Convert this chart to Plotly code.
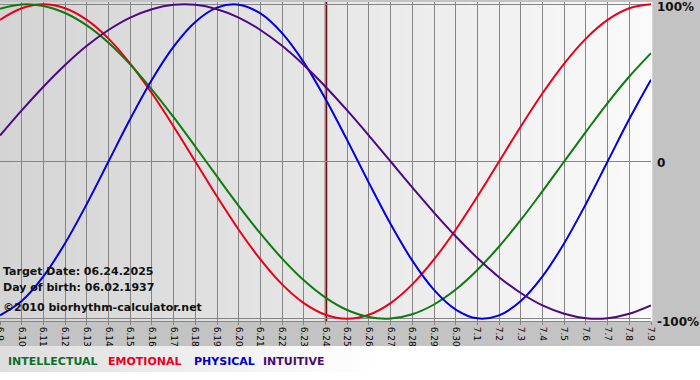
import plotly.graph_objects as go

# ---- data ----
dates = ["6.9", "6.10", "6.11", "6.12", "6.13", "6.14", "6.15", "6.16", "6.17", "6.18",
         "6.19", "6.20", "6.21", "6.22", "6.23", "6.24", "6.25", "6.26", "6.27", "6.28",
         "6.29", "6.30", "7.1", "7.2", "7.3", "7.4", "7.5", "7.6", "7.7", "7.8", "7.9"]

intellectual = [97.2, 99.9, 99.0, 94.5, 86.6, 75.6, 61.8, 45.8, 28.2, 9.5, -9.5, -28.2,
                -45.8, -61.8, -75.6, -86.6, -94.5, -99.0, -99.9, -97.2, -91.0, -81.5,
                -69.0, -54.1, -37.2, -18.9, 0.0, 18.9, 37.2, 54.1, 69.0]
emotional = [90.1, 97.5, 100.0, 97.5, 90.1, 78.2, 62.3, 43.4, 22.3, 0.0, -22.3, -43.4,
             -62.3, -78.2, -90.1, -97.5, -100.0, -97.5, -90.1, -78.2, -62.3, -43.4,
             -22.3, 0.0, 22.3, 43.4, 62.3, 78.2, 90.1, 97.5, 100.0]
physical = [-97.9, -88.8, -73.1, -52.0, -27.0, 0.0, 27.0, 52.0, 73.1, 88.8, 97.9, 99.8,
            94.2, 81.7, 63.1, 39.8, 13.6, -13.6, -39.8, -63.1, -81.7, -94.2, -99.8,
            -97.9, -88.8, -73.1, -52.0, -27.0, 0.0, 27.0, 52.0]
intuitive = [16.5, 32.5, 47.6, 61.4, 73.6, 83.7, 91.6, 96.9, 99.7, 99.7, 96.9, 91.6,
             83.7, 73.6, 61.4, 47.6, 32.5, 16.5, 0.0, -16.5, -32.5, -47.6, -61.4,
             -73.6, -83.7, -91.6, -96.9, -99.7, -99.7, -96.9, -91.6]

target_date = "6.24"
y_ticks = [-100, 0, 100]
y_tick_labels = ["-100%", "0", "100%"]
info_lines = ["Target Date: 06.24.2025", "Day of birth: 06.02.1937",
              "\u00a92010 biorhythm-calculator.net"]
legend_names = ["INTELLECTUAL", "EMOTIONAL", "PHYSICAL", "INTUITIVE"]

# ---- styles ----
colors = {"INTELLECTUAL": "#0f7a0f", "EMOTIONAL": "#e8001a",
          "PHYSICAL": "#0000e0", "INTUITIVE": "#4b0a82"}
legend_colors = {"INTELLECTUAL": "#0f6e2a", "EMOTIONAL": "#e8001a",
                 "PHYSICAL": "#0000cc", "INTUITIVE": "#4b0a6e"}
W, H = 700, 380
T, B, L, R = 2, 59, 0, 49
plot_h = H - T - B
plot_w = W - L - R

def py(px):  # pixel row -> paper y
    return (H - B - px) / plot_h

def pxx(px):  # pixel column -> paper x
    return (px - L) / plot_w

fig = go.Figure()
series = [("EMOTIONAL", emotional), ("INTELLECTUAL", intellectual),
          ("PHYSICAL", physical), ("INTUITIVE", intuitive)]
for name, vals in series:
    fig.add_trace(go.Scatter(x=dates, y=vals, mode="lines", name=name,
                             line=dict(color=colors[name], width=2, shape="spline"),
                             showlegend=False, hoverinfo="skip"))

shapes = []
# plot background gradient (left gray -> right near-white)
n = 60
c0, c1 = (212, 212, 212), (250, 250, 250)
for i in range(n):
    t = i / (n - 1)
    c = tuple(round(c0[k] + (c1[k] - c0[k]) * t) for k in range(3))
    shapes.append(dict(type="rect", xref="paper", yref="paper",
                       x0=i / n, x1=(i + 1) / n + 0.002, y0=0, y1=1,
                       fillcolor="rgb(%d,%d,%d)" % c, line=dict(width=0), layer="below"))
# legend strip gradient
m = 40
s0, s1 = (222, 222, 222), (255, 255, 255)
for i in range(m):
    t = i / (m - 1)
    c = tuple(round(s0[k] + (s1[k] - s0[k]) * t) for k in range(3))
    shapes.append(dict(type="rect", xref="paper", yref="paper",
                       x0=pxx(i / m * 380), x1=pxx((i + 1) / m * 380 + 1),
                       y0=py(372), y1=py(346),
                       fillcolor="rgb(%d,%d,%d)" % c, line=dict(width=0), layer="below"))
shapes.append(dict(type="rect", xref="paper", yref="paper",
                   x0=pxx(380), x1=pxx(700), y0=py(372), y1=py(346),
                   fillcolor="#ffffff", line=dict(width=0), layer="below"))
shapes.append(dict(type="rect", xref="paper", yref="paper",
                   x0=0, x1=pxx(700), y0=py(381), y1=py(372),
                   fillcolor="#ffffff", line=dict(width=0), layer="below"))
# target date marker
ti = dates.index(target_date)
shapes.append(dict(type="line", xref="x", yref="paper", x0=ti, x1=ti,
                   x0shift=0.023, x1shift=0.023,
                   y0=0, y1=1, line=dict(color="#6a1010", width=2.5), layer="between"))

annotations = []
for i, txt in enumerate(info_lines):
    ypx = [271, 287, 307][i]
    annotations.append(dict(text="<b>%s</b>" % txt, xref="paper", yref="paper",
                            x=pxx(1), y=py(ypx), xanchor="left", yanchor="middle",
                            showarrow=False, font=dict(family="DejaVu Sans", size=11, color="#111111")))
legend_x = [6, 106, 192, 261]
for name, xpx in zip(legend_names, legend_x):
    annotations.append(dict(text="<b>%s</b>" % name, xref="paper", yref="paper",
                            x=pxx(xpx), y=py(361), xanchor="left", yanchor="middle",
                            showarrow=False,
                            font=dict(family="DejaVu Sans", size=11, color=legend_colors[name])))
# right-hand percentage labels
for v, lab in zip(y_ticks, y_tick_labels):
    annotations.append(dict(text="<b>%s</b>" % lab, xref="paper", yref="y",
                            x=pxx(655), y=v, xanchor="left", yanchor="middle",
                            yshift=-3 if v != 0 else -1, showarrow=False,
                            font=dict(family="DejaVu Sans", size=12, color="#111111")))

fig.update_layout(
    width=W, height=H, margin=dict(l=L, r=R, t=T, b=B, autoexpand=False),
    paper_bgcolor="#c3c3c3", plot_bgcolor="rgba(0,0,0,0)",
    shapes=shapes, annotations=annotations,
    xaxis=dict(type="category", range=[0, 30], showgrid=True, gridcolor="#858585",
               gridwidth=1, tickangle=90, ticks="outside", ticklen=3, tickcolor="#858585",
               tickfont=dict(family="DejaVu Sans", size=9, color="#000000"),
               showline=True, linecolor="#858585", linewidth=1, zeroline=False,
               automargin=False, fixedrange=True),
    yaxis=dict(range=[-101.5, 101.5], tickvals=y_ticks, showticklabels=False,
               showgrid=True, gridcolor="#858585", gridwidth=1, zeroline=False,
               ticks="", automargin=False, showline=False, fixedrange=True),
)

fig.write_html("out.html", config={"displayModeBar": False},
               post_script="document.body.style.margin='0';document.body.style.padding='0';")
